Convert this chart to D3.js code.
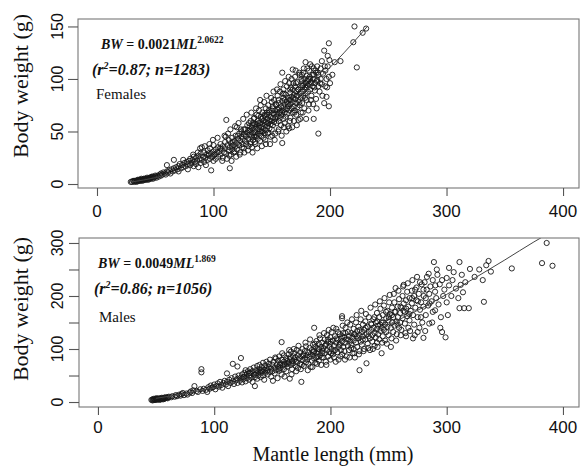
<!DOCTYPE html>
<html><head><meta charset="utf-8">
<script src="https://cdn.jsdelivr.net/npm/d3@7/dist/d3.min.js"></script>
<style>body{margin:0;background:#fff}svg{display:block}</style>
</head><body><svg id="c" width="581" height="467"></svg>
<script>
// ---------------- data ----------------
const xTicks = [0, 100, 200, 300, 400];
const femaleYTicks = [0, 50, 100, 150];
const femaleYLabels = [0, 50, 100, 150];
const maleYTicks = [0, 50, 100, 150, 200, 250, 300];
const maleYLabels = [0, 100, 200, 300];

// [mantle length (mm), body weight (g)] pairs
const femalePts = [
[29,2],[30,2],[31,3],[32,2],[32,3],[33,3],[34,3],[34,2],[35,4],[35,3],[36,3],[36,4],[37,4],[37,3],[38,4],[38,5],[39,4],[39,3],[40,5],[40,4],[41,4],[41,5],[42,5],[42,4],[43,5],[43,6],[44,5],[44,4],[45,6],[45,5],[46,6],[46,5],[47,6],[47,7],[48,7],[48,5],[49,6],[50,7],[50,8],[51,6],
[52,8],[53,7],[54,9],[55,8],[55,10],[56,9],[57,11],[58,10],[59,9],[60,12],[60,18],[61,11],[62,13],[63,10],[64,14],[65,12],[66,15],[66,23],[67,13],[68,16],[69,14],[70,17],[70,12],[71,19],[72,15],[73,18],[74,23],[74,16],[75,20],[76,17],[77,21],[78,19],[78,14],[79,22],[80,18],[80,24],[81,20],[82,23],[83,17],[83,26],[84,21],[85,25],[85,19],[86,22],[87,27],[87,16],[88,24],[89,20],[89,29],[90,35],[90,23],[91,26],[92,21],[92,30],[93,25],[94,28],[95,23],[95,32],[96,27],[97,24],[97,34],[98,13],[98,29],[99,26],[100,37],[100,22],[100,31],
[101,28],[102,33],[102,24],[103,30],[104,35],[104,26],[105,31],[106,28],[106,38],[107,33],[108,25],[108,36],[109,30],[110,34],[110,40],[111,29],[111,61],[112,37],[113,32],[113,42],[114,15],[114,35],[115,39],[115,28],[116,44],[116,33],[117,37],[118,41],[118,31],[119,46],[119,36],[120,39],[120,54],[120,33],[121,43],[122,37],[122,48],[123,41],[123,30],[124,45],[124,50],[125,38],[125,43],[126,47],[126,34],[127,41],[127,52],[128,45],[128,38],[129,49],[129,56],[130,43],[130,36],[130,51],
[131,47],[131,55],[132,40],[132,50],[132,60],[133,45],[133,53],[133,35],[134,48],[134,58],[134,42],[135,51],[135,63],[135,45],[136,54],[136,38],[136,49],[137,57],[137,46],[137,66],[138,52],[138,43],[138,60],[139,55],[139,48],[139,70],[140,80],[140,58],[140,50],[140,41],[141,54],[141,62],[141,46],[142,57],[142,68],[142,50],[143,60],[143,44],[143,53],[144,65],[144,56],[144,48],[145,59],[145,72],[145,51],[145,38],[146,62],[146,55],[146,66],[147,58],[147,49],[147,75],[148,61],[148,53],[148,68],[149,64],[149,57],[149,45],[150,60],[150,70],[150,52],[150,78],[151,63],
[151,56],[151,72],[152,66],[152,59],[152,80],[153,62],[153,48],[153,70],[154,67],[154,75],[154,58],[155,64],[155,84],[155,71],[156,60],[156,77],[156,52],[157,69],[157,88],[157,63],[158,74],[158,66],[158,56],[159,106],[159,39],[159,79],[159,70],[160,73],[160,62],[160,90],[160,82],[161,68],[161,76],[161,58],[162,85],[162,71],[162,64],[163,78],[163,93],[163,67],[164,74],[164,82],[164,55],[165,53],[165,80],[165,70],[165,96],[166,76],[166,87],[166,63],[167,83],[167,72],[167,100],[168,109],[168,78],[168,68],[168,90],[169,85],[169,74],[169,60],[170,81],[170,93],[170,70],[170,102],[171,88],[171,77],[171,66],[172,84],[172,97],[172,73],[173,61],[173,90],[173,80],[174,86],[174,104],[174,75],[175,92],[175,82],[175,68],
[176,88],[176,98],[176,77],[177,94],[177,106],[177,84],[178,90],[178,72],[178,100],[179,116],[179,96],[179,86],[180,92],[180,103],[180,80],[181,98],[181,88],[182,95],[182,108],[182,76],[183,114],[183,100],[183,90],[184,97],[184,84],[185,104],[185,93],[186,62],[186,100],[186,110],[187,89],[187,96],[188,106],[188,81],[189,99],[189,112],[190,48],[190,93],[190,104],[191,88],[192,100],[192,110],[193,117],[193,95],[194,105],[195,127],[195,77],[196,93],[196,108],[197,83],[197,100],[198,112],[199,134],[199,102],[199,74],[200,96],
[204,116],[209,117],[220,135],[221,150],[223,111],[228,144],[231,148],
[110.5,45],[111.5,24],[112.5,48],[113.5,27],[114.5,52],[115.5,22],[116.5,40],[117.5,30],[118.5,55],[119.5,26],[121.5,58],[122.5,28],[123.5,52],[124.5,35],[125.5,62],[126.5,30],[127.5,46],[128.5,66],[129.5,32],[130.5,58],
[131.5,38],[132.5,68],[133.5,30],[134.5,62],[135.5,40],[136.5,72],[137.5,34],[138.5,65],[139.5,52],[140.5,75],[141.5,36],[142.5,63],[143.5,78],[144.5,42],[145.5,84],[146.5,48],[147.5,70],[148.5,38],[149.5,82],[150.5,46],
[151.5,88],[152.5,42],[153.5,76],[154.5,90],[155.5,50],[156.5,68],[157.5,95],[158.5,46],[159.5,86],[160.5,54],[161.5,98],[162.5,50],[163.5,72],[164.5,102],[165.5,60],[166.5,92],[167.5,54],[168.5,96],[169.5,68],[170.5,108],
[171.5,56],[172.5,90],[173.5,106],[174.5,62],[175.5,100],[176.5,68],[177.5,110],[178.5,82],[179.5,62],[180.5,110],[181.5,70],[182.5,102],[183.5,80],[184.5,112],[185.5,76],[186.5,92],[187.5,108],[188.5,72],[189.5,106],[191.5,96],[193.5,84],[195.5,112],[197.5,92],[199.5,118],[202,104],[198,122],
[131.2,51],[133.7,56],[136.2,45],[138.7,58],[141.2,50],[143.7,66],[146.2,58],[148.7,60],[151.2,67],[153.7,64],[156.2,72],[158.7,68],[161.2,80],[163.7,76],[166.2,80],[168.7,82],[171.2,84],[173.7,78],[176.2,94],[178.7,92],[181.2,100],[183.7,96],[186.2,104],[188.7,98],[140.8,64],[145.8,68],[150.8,74],[155.8,80],[160.8,86],[165.8,90],[170.8,96],[175.8,104],[180.8,94],[135.8,57],[125.8,52],[120.8,46],[115.8,36],[105.8,34],[100.8,28],[95.8,29],
[88.5,34],[92.5,36],[96.5,38],[99.5,42],[103.5,44],[107.5,22],[109.5,46],[93.5,18],[86.5,30],[82.5,28]
];

const malePts = [
[46,4],[47,5],[47,3],[48,4],[48,6],[49,5],[49,4],[50,6],[50,4],[50,7],[51,5],[51,6],[52,5],[52,7],[53,6],[53,4],[54,7],[54,5],[55,6],[55,8],[56,7],[56,5],[57,8],[57,6],[58,7],[58,9],[59,8],[60,9],[60,7],[61,10],
[63,9],[64,11],[66,10],[67,13],[68,11],[70,14],[71,12],[72,15],[73,17],[74,13],[76,16],[77,14],[79,18],[80,20],[81,17],[82,22],[83,30],[85,21],[86,19],[88,24],[89,62],[89,56],[90,21],[91,25],[93,23],[94,19],[95,28],[96,25],[97,31],[98,27],[99,28],[100,33],[101,24],[102,30],[103,35],[104,29],[105,38],[106,32],[107,27],[108,36],[109,40],[110,33],[111,54],[111,38],[112,30],[113,42],[114,36],[115,45],[116,72],[116,39],[117,34],[118,48],[119,41],[120,67],[120,44],[120,36],
[121,50],[122,40],[123,83],[123,46],[124,37],[124,52],[125,43],[126,55],[126,48],[127,39],[127,60],[128,45],[128,53],[129,58],[130,42],[130,49],[131,62],[131,55],[132,46],[133,58],[133,38],[134,51],[134,65],[135,30],[135,47],[136,60],[136,54],[137,68],[137,44],[138,57],[138,50],[139,70],[139,62],[140,47],[140,55],[141,66],[141,58],[142,74],[142,50],[143,61],[143,42],[144,69],[144,55],[145,64],[145,76],[146,52],[146,60],[147,72],[147,66],[148,57],[148,80],[149,63],[149,48],[150,70],[150,58],[151,76],[152,65],[152,54],[153,82],[153,60],[154,71],[155,66],[155,78],[156,59],[156,86],[157,73],[157,64],[158,113],[158,80],[158,52],[159,69],[160,76],[160,62],[160,88],[161,72],[162,83],[162,58],[163,78],[163,67],[164,90],[164,74],[165,44],[165,81],[166,70],[166,95],[167,77],[167,62],[168,86],[168,73],[169,92],[169,80],[170,68],[170,84],[171,98],[171,76],[172,88],[172,64],[173,82],[174,94],[174,72],[175,38],[175,86],[176,79],[176,100],[177,90],[177,68],[178,83],[178,96],[179,75],[179,105],[180,88],[180,80],
[181,94],[181,72],[182,102],[182,85],[183,90],[183,66],[184,98],[184,78],[185,108],[185,88],[186,140],[186,82],[186,96],[187,74],[187,104],[188,92],[188,115],[189,85],[189,100],[190,110],[190,78],[190,94],[191,88],[191,120],[192,104],[192,70],[193,96],[193,112],[194,84],[194,102],[195,118],[195,92],[196,76],[196,108],[197,98],[197,126],[198,86],[198,114],[199,104],[199,94],[200,122],[200,80],[200,110],[201,100],[201,132],[202,90],[202,116],[203,106],[203,84],[204,124],[204,98],[205,112],[205,138],[206,94],[206,118],[207,104],[207,80],[208,128],[208,110],[209,98],[209,120],[210,162],[210,158],[210,114],[210,90],[211,130],[211,104],[212,122],[212,96],[213,140],[213,112],[214,86],[214,118],[215,132],[215,106],[216,124],[216,98],[217,146],[217,114],[218,108],[218,130],[219,92],[219,122],[220,138],[220,116],[220,100],[221,128],[221,84],[222,150],[222,112],[223,134],[223,104],[224,120],[224,142],[225,60],[225,126],[225,96],[226,114],[226,156],[227,132],[227,108],[228,124],[228,146],[229,100],[229,136],[230,118],[230,152],[231,73],[231,128],[232,110],[232,142],[233,132],[233,160],[234,120],[234,98],[235,148],[235,136],[236,114],[236,126],[237,156],[237,140],[238,106],[238,130],[239,150],[239,122],[240,168],[240,138],[240,112],[241,144],[241,128],[242,160],[242,118],[243,134],[243,176],[244,92],[244,150],[244,140],[245,124],[245,164],[246,136],[246,182],[247,146],[247,116],[248,158],[248,132],[249,172],[249,142],[250,126],[250,154],[251,202],[251,166],[252,104],[252,140],[253,178],[253,150],[254,132],[254,160],[255,188],[255,144],[256,215],[256,170],[257,152],[257,128],[258,180],[258,160],[259,140],[259,194],[260,168],[260,150],
[261,178],[261,136],[262,200],[262,158],[263,221],[263,186],[264,148],[264,170],[265,192],[265,124],[266,162],[266,208],[267,180],[267,140],[268,196],[268,154],[269,172],[270,210],[270,186],[271,120],[271,164],[272,200],[272,146],[273,178],[274,192],[274,216],[275,160],[275,132],[276,204],[277,174],[277,226],[278,188],[279,150],[280,121],[280,212],[280,180],[281,226],[282,196],[282,164],[283,236],[284,182],[285,204],[285,148],[286,218],[287,190],[288,170],[288,230],[289,264],[290,173],[290,208],[291,196],[292,240],[293,184],[294,222],[295,160],[296,132],[296,230],[297,200],[298,212],[299,122],[300,234],[300,188],[301,164],[302,253],[302,220],[304,200],[305,230],[306,245],[308,214],[310,196],[311,264],[311,177],[312,221],[313,240],[314,207],[315,177],[316,226],[319,177],[320,251],
[324,236],[328,250],[331,230],[332,189],[334,258],[336,266],[338,246],[356,252],[382,262],[386,300],[391,257],
[150.5,40],[152.5,84],[154.5,45],[156.5,70],[158.5,92],[160.5,48],[162.5,72],[164.5,98],[166.5,52],[168.5,100],[170.5,58],[172.5,106],[174.5,62],[176.5,88],[178.5,112],[180.5,60],[182.5,118],[184.5,66],[186.5,110],[188.5,72],[190.5,126],[192.5,84],[194.5,130],[196.5,70],[198.5,136],[200.5,92],[202.5,140],[204.5,76],[206.5,132],[208.5,86],[210.5,144],[212.5,80],[214.5,150],[216.5,84],[218.5,156],[220.5,92],[222.5,164],[224.5,90],[226.5,172],[228.5,96],[230.5,166],[232.5,102],[234.5,178],[236.5,100],[238.5,184],[240.5,104],[242.5,190],[244.5,112],[246.5,196],[248.5,110],[250.5,188],[252.5,120],[254.5,204],[256.5,116],[258.5,210],[260.5,126],[262.5,218],[264.5,130],[266.5,224],[268.5,134],[270.5,230],[272.5,126],[274.5,236],[276.5,140],[278.5,222],[281.5,134],[284.5,242],[287.5,150],[291.5,250],[294.5,140],
[185.2,94],[190.2,100],[195.2,106],[200.2,114],[205.2,120],[210.2,124],[215.2,118],[220.2,128],[225.2,136],[230.2,140],[235.2,146],[240.2,152],[245.2,150],[250.2,160],[255.2,170],[260.2,180],[265.2,176],[270.2,196],[275.2,190],[280.2,200],[285.2,186],[290.2,220],[187.8,84],[192.8,92],[197.8,118],[202.8,96],[207.8,108],[212.8,130],[217.8,102],[222.8,124],[227.8,118],[232.8,124],[237.8,160],[242.8,146],[247.8,170],[252.8,164],[257.8,146],[262.8,172],[267.8,166],[272.8,212],[277.8,160],[282.8,212],[165.2,84],[170.2,76],[175.2,70],[160.2,70],[155.2,62],[145.2,58],[140.2,60],[135.2,52],[130.2,55],[125.2,47]
];

// fitted curves, vertices
const femaleFit = [[30,2],[50,6],[75,14],[100,27],[125,43],[150,62],[175,85],[200,111],[225,141],[232,150]];
const maleFit = [[50,7],[75,16],[100,27],[125,41],[150,57],[175,76],[200,97],[225,120],[250,146],[275,173],[300,203],[325,235],[350,268],[375,302],[386,316]];

const femaleLabels = {bw: "BW", eq: " = 0.0021", ml: "ML", exp: "2.0622", r: "(r", r2: "2", rest: "=0.87; n=1283)", name: "Females"};
const maleLabels = {bw: "BW", eq: " = 0.0049", ml: "ML", exp: "1.869", r: "(r", r2: "2", rest: "=0.86; n=1056)", name: "Males"};

// ---------------- drawing ----------------
const svg = d3.select("#c");
const SERIF = "'Liberation Serif','Times New Roman',serif";
const SANS = "'Liberation Sans',Arial,sans-serif";

function panel(cfg, id) {
  const x = d3.scaleLinear().domain(cfg.xd).range([cfg.box[0], cfg.box[2]]);
  const y = d3.scaleLinear().domain(cfg.yd).range([cfg.box[3], cfg.box[1]]);
  const g = svg.append("g");
  const [L, T, R, B] = cfg.box;

  svg.append("clipPath").attr("id", "clip" + id)
    .append("rect").attr("x", L).attr("y", T).attr("width", R - L).attr("height", B - T);

  // points
  g.append("g").selectAll("circle").data(cfg.pts).join("circle")
    .attr("cx", d => x(d[0])).attr("cy", d => y(d[1])).attr("r", 2.6)
    .attr("fill", "none").attr("stroke", "#161616").attr("stroke-width", 0.9);

  // fit line
  g.append("path").datum(cfg.fit).attr("clip-path", `url(#clip${id})`)
    .attr("d", d3.line().x(d => x(d[0])).y(d => y(d[1])).curve(d3.curveMonotoneX))
    .attr("fill", "none").attr("stroke", "#444").attr("stroke-width", 1);

  // box
  g.append("rect").attr("x", L).attr("y", T).attr("width", R - L).attr("height", B - T)
    .attr("fill", "none").attr("stroke", "#777").attr("stroke-width", 1.1);

  // x axis
  const xa = g.append("g").attr("transform", `translate(0,${B})`)
    .call(d3.axisBottom(x).tickValues(xTicks).tickSize(8).tickFormat(""));
  xa.select(".domain").remove();
  xa.selectAll("line").attr("stroke", "#555").attr("stroke-width", 1.1);
  g.selectAll(null).data(xTicks).join("text")
    .attr("x", d => x(d)).attr("y", cfg.xLabY).attr("text-anchor", "middle")
    .attr("font-family", SANS).attr("font-size", 17).attr("fill", "#111").text(d => d);

  // y axis
  const ya = g.append("g").attr("transform", `translate(${L},0)`)
    .call(d3.axisLeft(y).tickValues(cfg.yTicks).tickSize(10).tickFormat(""));
  ya.select(".domain").remove();
  ya.selectAll("line").attr("stroke", "#555").attr("stroke-width", 1.1);
  g.selectAll(null).data(cfg.yLabels).join("text")
    .attr("transform", d => `translate(63,${y(d)}) rotate(-90)`).attr("text-anchor", "middle")
    .attr("font-family", SANS).attr("font-size", 16).attr("fill", "#111").text(d => d);

  // y title
  g.append("text").attr("transform", `translate(28,${cfg.yTitleY}) rotate(-90)`)
    .attr("text-anchor", "middle").attr("font-family", SERIF).attr("font-size", 22)
    .attr("fill", "#111").text("Body weight (g)");

  // annotations
  const lb = cfg.labels;
  const t1 = g.append("text").attr("x", cfg.ann[0]).attr("y", cfg.ann[1])
    .attr("font-family", SERIF).attr("font-size", 14).attr("font-weight", "bold").attr("fill", "#111");
  t1.append("tspan").attr("font-style", "italic").text(lb.bw);
  t1.append("tspan").text(lb.eq);
  t1.append("tspan").attr("font-style", "italic").text(lb.ml);
  t1.append("tspan").attr("font-size", 9.5).attr("dy", -6).text(lb.exp);

  const t2 = g.append("text").attr("x", cfg.ann2[0]).attr("y", cfg.ann2[1])
    .attr("font-family", SERIF).attr("font-size", 16).attr("font-weight", "bold")
    .attr("font-style", "italic").attr("fill", "#111");
  t2.append("tspan").text(lb.r);
  t2.append("tspan").attr("font-size", 10).attr("dy", -6).text(lb.r2);
  t2.append("tspan").attr("dy", 6).text(lb.rest);

  g.append("text").attr("x", cfg.ann3[0]).attr("y", cfg.ann3[1])
    .attr("font-family", SERIF).attr("font-size", 15).attr("fill", "#111").text(lb.name);
}

panel({
  box: [78, 19, 579, 188], xd: [-16.3, 413.7], yd: [-3.8, 157.1],
  pts: femalePts, fit: femaleFit, yTicks: femaleYTicks, yLabels: femaleYLabels,
  xLabY: 217, yTitleY: 86, labels: femaleLabels,
  ann: [101, 49], ann2: [92, 75], ann3: [96, 99]
}, 1);

panel({
  box: [79, 238, 579, 407], xd: [-16.3, 413.8], yd: [-9.4, 309.4],
  pts: malePts, fit: maleFit, yTicks: maleYTicks, yLabels: maleYLabels,
  xLabY: 433, yTitleY: 309, labels: maleLabels,
  ann: [98, 268], ann2: [94, 294], ann3: [99, 322]
}, 2);

svg.append("text").attr("x", 333).attr("y", 461).attr("text-anchor", "middle")
  .attr("font-family", SERIF).attr("font-size", 20).attr("fill", "#111").text("Mantle length (mm)");
</script></body></html>
